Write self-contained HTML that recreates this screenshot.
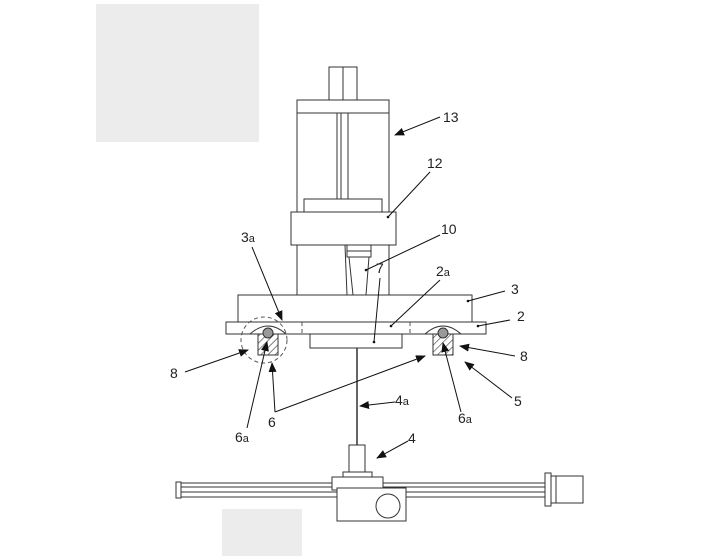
<!DOCTYPE html>
<html><head><meta charset="utf-8"><style>
html,body{margin:0;padding:0;background:#fff;width:720px;height:556px;overflow:hidden}
svg{display:block}
text{font-family:"Liberation Sans",sans-serif;font-size:14px;fill:#222}
</style></head><body>
<svg width="720" height="556" viewBox="0 0 720 556">
<defs>
<marker id="a" markerWidth="10" markerHeight="8" refX="9" refY="4" orient="auto" markerUnits="userSpaceOnUse"><path d="M0,0 L10,4 L0,8 Z" fill="#111"/></marker>
<pattern id="h" width="5" height="5" patternUnits="userSpaceOnUse" patternTransform="rotate(45)"><line x1="0" y1="0" x2="0" y2="5" stroke="#333" stroke-width="1.2"/></pattern>
</defs>
<rect x="96" y="4" width="163" height="138" fill="#ececec"/>
<rect x="222" y="509" width="80" height="47" fill="#ececec"/>
<g fill="#fff" stroke="#333" stroke-width="1">
<rect x="329" y="67" width="28" height="33"/>
<line x1="343" y1="67" x2="343" y2="100"/>
<rect x="297" y="100" width="92" height="195"/>
<line x1="297" y1="113" x2="389" y2="113"/>
<line x1="337" y1="113" x2="337" y2="199"/><line x1="348" y1="113" x2="348" y2="199"/><line x1="341" y1="113" x2="341" y2="199"/>
<rect x="304" y="199" width="78" height="13"/>
<rect x="291" y="212" width="105" height="33"/>
<rect x="347" y="245" width="24" height="6"/><rect x="347" y="251" width="24" height="6"/>
<path d="M349,257 L353,295 M369,257 L366,295 M345,245 L347,295"/>
<rect x="238" y="295" width="234" height="27"/>
<rect x="226" y="322" width="260" height="12"/>
<rect x="310" y="334" width="92" height="14"/>
<rect x="258" y="334" width="20" height="21" fill="url(#h)"/>
<rect x="433" y="334" width="20" height="21" fill="url(#h)"/>
<path d="M250,334 Q268,318 286,334" fill="none"/>
<path d="M425,334 Q443,318 461,334" fill="none"/>
<circle cx="268" cy="333" r="5" fill="#999"/>
<circle cx="443" cy="333" r="5" fill="#999"/>
</g>
<g stroke="#555" stroke-dasharray="4,3" fill="none">
<line x1="302" y1="322" x2="302" y2="334"/><line x1="410" y1="322" x2="410" y2="334"/>
<circle cx="264" cy="340" r="23"/>
</g>
<line x1="357" y1="348" x2="357" y2="447" stroke="#333" stroke-width="1.5"/>
<g fill="#fff" stroke="#333" stroke-width="1">
<rect x="176" y="483" width="370" height="14"/>
<line x1="180" y1="487" x2="545" y2="487"/><line x1="180" y1="492" x2="545" y2="492"/>
<rect x="176" y="482" width="5" height="16"/>
<rect x="545" y="473" width="6" height="33"/>
<rect x="551" y="476" width="32" height="27"/>
<line x1="556" y1="476" x2="556" y2="503"/>
<rect x="349" y="445" width="16" height="27"/>
<rect x="343" y="472" width="29" height="6"/>
<rect x="332" y="477" width="51" height="13"/>
<rect x="337" y="488" width="69" height="33"/>
<circle cx="388" cy="506" r="12"/>
</g>
<g stroke="#111" stroke-width="1" fill="none">
<line x1="440" y1="117" x2="395" y2="135" marker-end="url(#a)"/>
<line x1="430" y1="172" x2="388" y2="217"/>
<line x1="440" y1="235" x2="366" y2="270"/>
<line x1="252" y1="247" x2="282" y2="320" marker-end="url(#a)"/>
<line x1="380" y1="278" x2="374" y2="342"/>
<line x1="440" y1="280" x2="391" y2="326"/>
<line x1="505" y1="291" x2="468" y2="301"/>
<line x1="510" y1="320" x2="478" y2="326"/>
<line x1="185" y1="372" x2="248" y2="350" marker-end="url(#a)"/>
<line x1="515" y1="356" x2="460" y2="346" marker-end="url(#a)"/>
<line x1="512" y1="398" x2="465" y2="362" marker-end="url(#a)"/>
<line x1="275" y1="412" x2="272" y2="363" marker-end="url(#a)"/>
<line x1="275" y1="412" x2="425" y2="356" marker-end="url(#a)"/>
<line x1="247" y1="428" x2="267" y2="342" marker-end="url(#a)"/>
<line x1="461" y1="412" x2="443" y2="343" marker-end="url(#a)"/>
<line x1="395" y1="402" x2="360" y2="406" marker-end="url(#a)"/>
<line x1="408" y1="441" x2="377" y2="458" marker-end="url(#a)"/>
</g>
<g fill="#111"><circle cx="388" cy="217" r="1.3"/><circle cx="366" cy="270" r="1.3"/><circle cx="374" cy="342" r="1.3"/><circle cx="391" cy="326" r="1.3"/><circle cx="468" cy="301" r="1.3"/><circle cx="478" cy="326" r="1.3"/></g>
<text x="443" y="122">13</text>
<text x="427" y="168">12</text>
<text x="441" y="234">10</text>
<text x="241" y="242">3<tspan font-size="11">a</tspan></text>
<text x="436" y="276">2<tspan font-size="11">a</tspan></text>
<text x="376" y="273">7</text>
<text x="511" y="294">3</text>
<text x="517" y="321">2</text>
<text x="170" y="378">8</text>
<text x="520" y="361">8</text>
<text x="514" y="406">5</text>
<text x="395" y="405">4<tspan font-size="11">a</tspan></text>
<text x="268" y="427">6</text>
<text x="235" y="442">6<tspan font-size="11">a</tspan></text>
<text x="458" y="423">6<tspan font-size="11">a</tspan></text>
<text x="408" y="443">4</text>
</svg>
</body></html>
